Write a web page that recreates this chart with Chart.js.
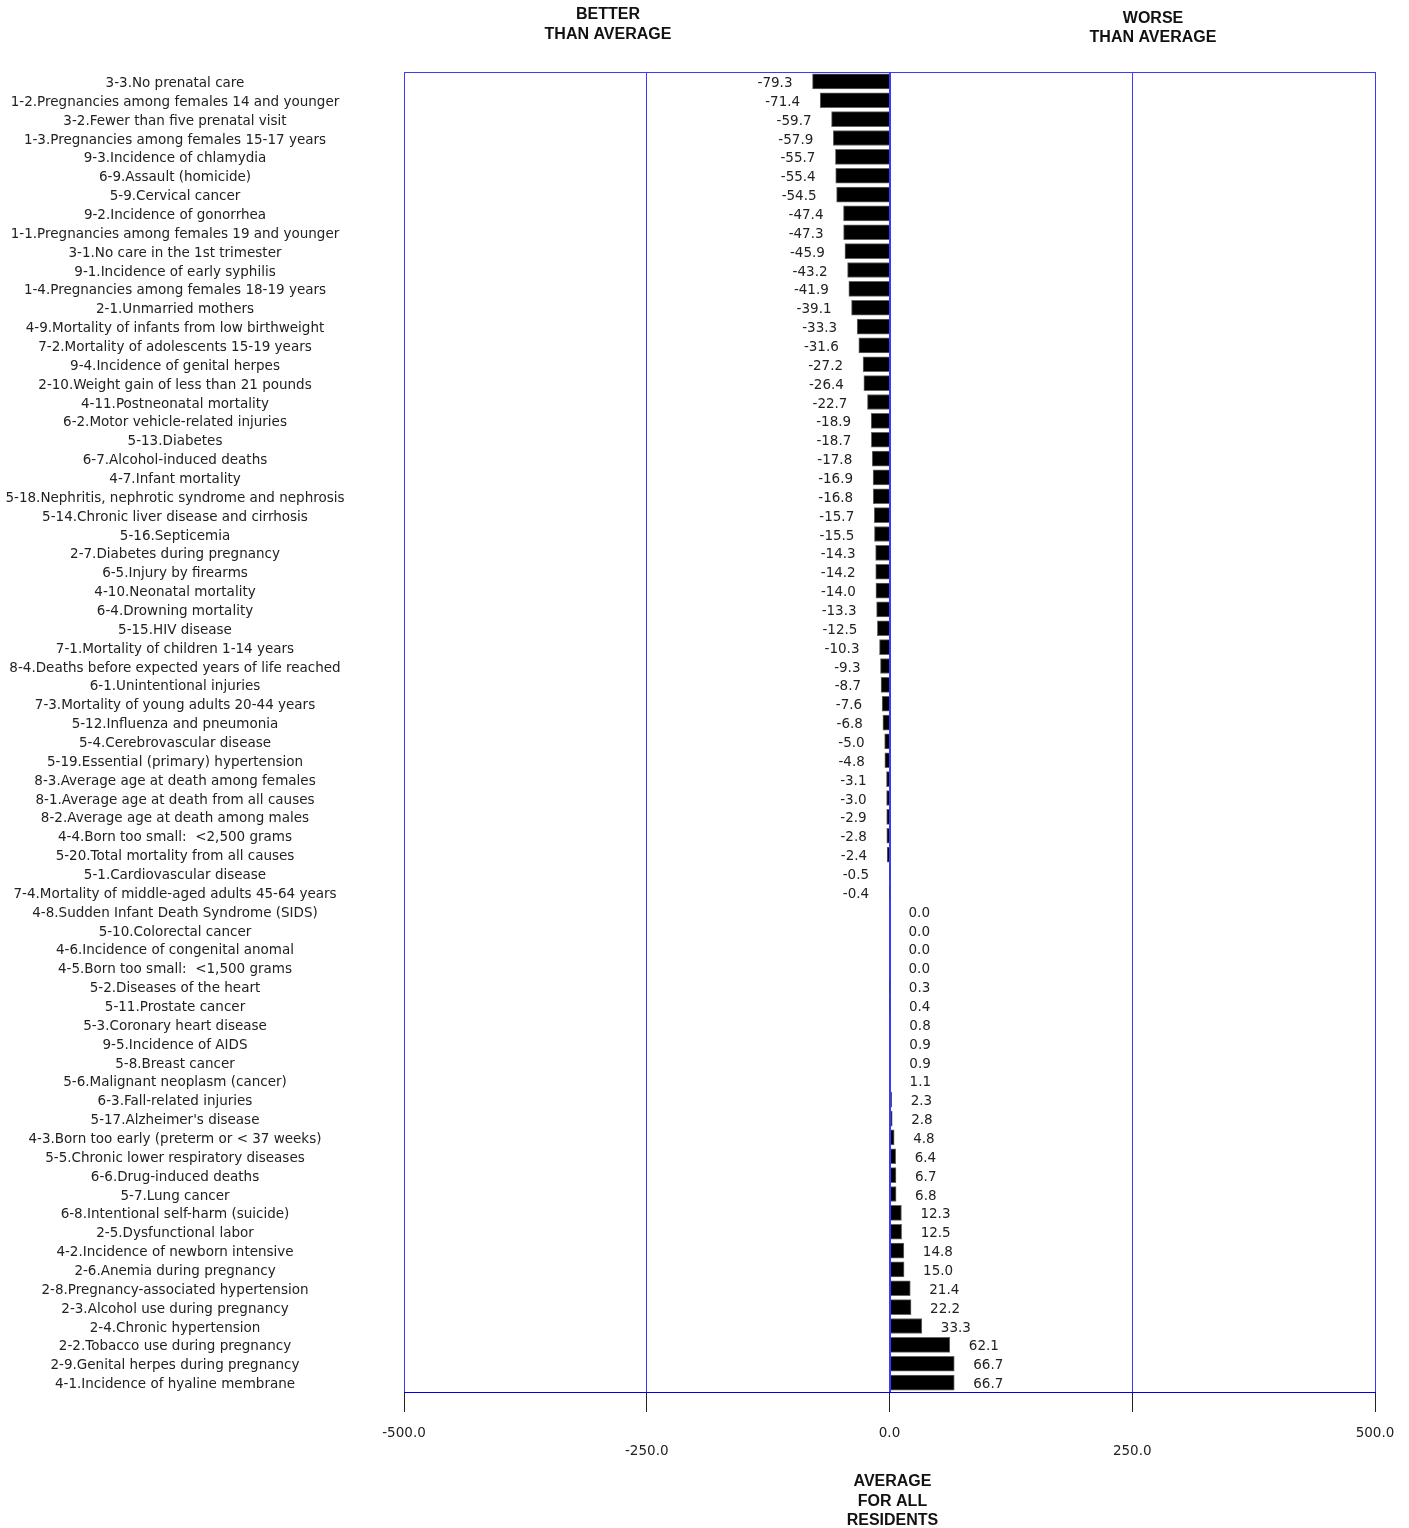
<!DOCTYPE html>
<html>
<head>
<meta charset="utf-8">
<script src="https://cdn.jsdelivr.net/npm/chart.js@4.4.0/dist/chart.umd.min.js"></script>
<style>
  html, body { margin: 0; padding: 0; background: #fff; }
  #wrap { width: 1409px; height: 1528px; position: relative; }
</style>
</head>
<body>
<div id="wrap"><canvas id="chart" width="1409" height="1528"></canvas></div>
<script>
// ==================== Data ====================

const categories = [
    '3-3.No prenatal care',
    '1-2.Pregnancies among females 14 and younger',
    '3-2.Fewer than five prenatal visit',
    '1-3.Pregnancies among females 15-17 years',
    '9-3.Incidence of chlamydia',
    '6-9.Assault (homicide)',
    '5-9.Cervical cancer',
    '9-2.Incidence of gonorrhea',
    '1-1.Pregnancies among females 19 and younger',
    '3-1.No care in the 1st trimester',
    '9-1.Incidence of early syphilis',
    '1-4.Pregnancies among females 18-19 years',
    '2-1.Unmarried mothers',
    '4-9.Mortality of infants from low birthweight',
    '7-2.Mortality of adolescents 15-19 years',
    '9-4.Incidence of genital herpes',
    '2-10.Weight gain of less than 21 pounds',
    '4-11.Postneonatal mortality',
    '6-2.Motor vehicle-related injuries',
    '5-13.Diabetes',
    '6-7.Alcohol-induced deaths',
    '4-7.Infant mortality',
    '5-18.Nephritis, nephrotic syndrome and nephrosis',
    '5-14.Chronic liver disease and cirrhosis',
    '5-16.Septicemia',
    '2-7.Diabetes during pregnancy',
    '6-5.Injury by firearms',
    '4-10.Neonatal mortality',
    '6-4.Drowning mortality',
    '5-15.HIV disease',
    '7-1.Mortality of children 1-14 years',
    '8-4.Deaths before expected years of life reached',
    '6-1.Unintentional injuries',
    '7-3.Mortality of young adults 20-44 years',
    '5-12.Influenza and pneumonia',
    '5-4.Cerebrovascular disease',
    '5-19.Essential (primary) hypertension',
    '8-3.Average age at death among females',
    '8-1.Average age at death from all causes',
    '8-2.Average age at death among males',
    '4-4.Born too small:  <2,500 grams',
    '5-20.Total mortality from all causes',
    '5-1.Cardiovascular disease',
    '7-4.Mortality of middle-aged adults 45-64 years',
    '4-8.Sudden Infant Death Syndrome (SIDS)',
    '5-10.Colorectal cancer',
    '4-6.Incidence of congenital anomal',
    '4-5.Born too small:  <1,500 grams',
    '5-2.Diseases of the heart',
    '5-11.Prostate cancer',
    '5-3.Coronary heart disease',
    '9-5.Incidence of AIDS',
    '5-8.Breast cancer',
    '5-6.Malignant neoplasm (cancer)',
    '6-3.Fall-related injuries',
    "5-17.Alzheimer's disease",
    '4-3.Born too early (preterm or < 37 weeks)',
    '5-5.Chronic lower respiratory diseases',
    '6-6.Drug-induced deaths',
    '5-7.Lung cancer',
    '6-8.Intentional self-harm (suicide)',
    '2-5.Dysfunctional labor',
    '4-2.Incidence of newborn intensive',
    '2-6.Anemia during pregnancy',
    '2-8.Pregnancy-associated hypertension',
    '2-3.Alcohol use during pregnancy',
    '2-4.Chronic hypertension',
    '2-2.Tobacco use during pregnancy',
    '2-9.Genital herpes during pregnancy',
    '4-1.Incidence of hyaline membrane'
];

const values = [
    -79.3, -71.4, -59.7, -57.9, -55.7, -55.4, -54.5, -47.4, -47.3, -45.9,
    -43.2, -41.9, -39.1, -33.3, -31.6, -27.2, -26.4, -22.7, -18.9, -18.7,
    -17.8, -16.9, -16.8, -15.7, -15.5, -14.3, -14.2, -14.0, -13.3, -12.5,
    -10.3, -9.3, -8.7, -7.6, -6.8, -5.0, -4.8, -3.1, -3.0, -2.9,
    -2.8, -2.4, -0.5, -0.4, 0.0, 0.0, 0.0, 0.0, 0.3, 0.4,
    0.8, 0.9, 0.9, 1.1, 2.3, 2.8, 4.8, 6.4, 6.7, 6.8,
    12.3, 12.5, 14.8, 15.0, 21.4, 22.2, 33.3, 62.1, 66.7, 66.7
];

const xMin = -500;
const xMax = 500;
const xStep = 250;

const betterTitle = ['BETTER', 'THAN AVERAGE'];
const worseTitle = ['WORSE', 'THAN AVERAGE'];
const averageTitle = ['AVERAGE', 'FOR ALL', 'RESIDENTS'];

// ==================== Plugins ====================

const FONT = '"DejaVu Sans", Verdana, sans-serif';
const GRID_BLUE = '#3a3aff';
const TEXT_NUDGE = 2; // canvas 'middle' baseline sits a bit high

const categoryLabels = {
    id: 'categoryLabels',
    afterDraw(chart) {
        const ctx = chart.ctx;
        const y = chart.scales.y;
        ctx.save();
        ctx.font = `13.5px ${FONT}`;
        ctx.fillStyle = '#222';
        ctx.textAlign = 'center';
        ctx.textBaseline = 'middle';
        categories.forEach((c, i) => ctx.fillText(c, 175, y.getPixelForValue(i) + TEXT_NUDGE));
        ctx.restore();
    }
};

const valueLabels = {
    id: 'valueLabels',
    afterDatasetsDraw(chart) {
        const ctx = chart.ctx;
        const meta = chart.getDatasetMeta(0);
        const x = chart.scales.x;
        const area = chart.chartArea;
        ctx.save();
        // redraw zero line and top edge on top of bars
        ctx.strokeStyle = GRID_BLUE;
        ctx.lineWidth = 1;
        const x0 = Math.round(x.getPixelForValue(0)) + 0.5;
        ctx.beginPath();
        ctx.moveTo(x0, area.top);
        ctx.lineTo(x0, area.bottom);
        ctx.moveTo(area.left, area.top + 0.5);
        ctx.lineTo(area.right, area.top + 0.5);
        ctx.stroke();

        ctx.font = `13.5px ${FONT}`;
        ctx.fillStyle = '#222';
        ctx.textBaseline = 'middle';
        meta.data.forEach((bar, i) => {
            const v = values[i];
            if (v < 0) {
                ctx.textAlign = 'right';
                ctx.fillText(v.toFixed(1), bar.x - 20, bar.y + TEXT_NUDGE);
            } else {
                ctx.textAlign = 'left';
                ctx.fillText(v.toFixed(1), bar.x + 19, bar.y + TEXT_NUDGE);
            }
        });
        ctx.restore();
    }
};

const headings = {
    id: 'headings',
    afterDraw(chart) {
        const ctx = chart.ctx;
        const x0 = chart.scales.x.getPixelForValue(0);
        ctx.save();
        ctx.font = `bold 16px "Liberation Sans", Arial, sans-serif`;
        ctx.fillStyle = '#111';
        ctx.textAlign = 'center';
        ctx.textBaseline = 'middle';
        betterTitle.forEach((t, i) => ctx.fillText(t, 608, 15 + i * 20));
        worseTitle.forEach((t, i) => ctx.fillText(t, 1153, 19 + i * 19));
        averageTitle.forEach((t, i) => ctx.fillText(t, x0 + 3, 1482 + i * 19.5));
        ctx.restore();
    }
};

// ==================== Chart ====================

new Chart(document.getElementById('chart'), {
    type: 'bar',
    data: {
        labels: categories,
        datasets: [{
            data: values,
            backgroundColor: '#000',
            borderColor: '#666',
            borderWidth: 1,
            barThickness: 15
        }]
    },
    options: {
        indexAxis: 'y',
        responsive: false,
        animation: false,
        layout: { padding: { top: 72, right: 34, left: 0, bottom: 0 } },
        plugins: {
            legend: { display: false },
            tooltip: { enabled: false }
        },
        scales: {
            x: {
                min: xMin,
                max: xMax,
                afterFit: s => { s.height = 136; },
                grid: { color: GRID_BLUE, tickColor: '#222', tickLength: 20, lineWidth: 1 },
                border: { display: true, color: '#0000ee', width: 1 },
                ticks: {
                    stepSize: xStep,
                    padding: 12,
                    color: '#222',
                    font: { family: FONT, size: 13.5, lineHeight: 1.35 },
                    maxRotation: 0,
                    autoSkip: false,
                    callback: v => Math.abs(v) === xStep ? ['', v.toFixed(1)] : v.toFixed(1)
                }
            },
            y: {
                afterFit: s => { s.width = 404; },
                grid: { display: false },
                border: { display: false },
                ticks: { display: false }
            }
        }
    },
    plugins: [categoryLabels, valueLabels, headings]
});
</script>
</body>
</html>
